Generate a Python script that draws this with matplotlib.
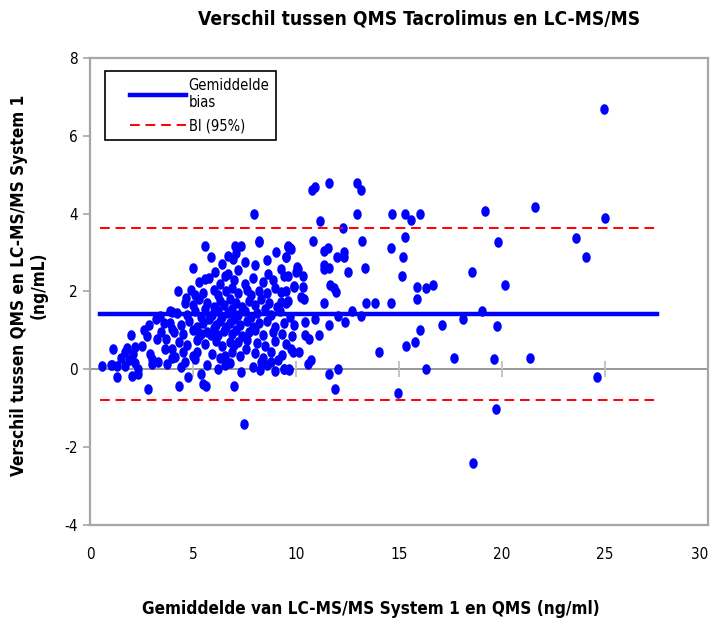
import matplotlib
matplotlib.use("Agg")
import matplotlib.pyplot as plt
import numpy as np
from matplotlib.path import Path
from matplotlib.legend_handler import HandlerLine2D

plt.rcParams['font.family'] = ['Liberation Sans Narrow', 'DejaVu Sans']
plt.rcParams['font.stretch'] = 'condensed'
plt.rcParams['axes.unicode_minus'] = False

# gemiddelde van beide methodes (ng/ml) en verschil (ng/mL)
sparse_x = [24.93, 25.02, 21.59, 23.57, 24.06, 24.59, 21.35, 19.18, 19.81, 20.14,
            18.55, 19.03, 19.76, 19.61, 19.71, 18.61, 14.67, 15.31, 15.56, 16.04,
            15.27, 14.59, 15.20, 15.15, 15.86, 16.29, 16.67, 15.86, 16.04, 15.80,
            15.33, 16.33, 14.94, 14.04, 14.59, 13.82, 13.42, 13.33, 13.22, 12.98,
            12.96, 13.14, 11.58, 10.92, 10.76, 11.17, 12.26, 10.81, 11.37, 11.53,
            12.01, 12.33, 12.33, 11.34, 11.34, 11.61, 12.50, 11.66, 11.82, 11.93,
            11.34, 12.71, 13.14, 12.04, 10.92, 11.61, 12.37, 10.43, 11.10, 10.43,
            10.64, 10.56, 10.72, 11.58, 12.06, 11.88, 17.07, 18.13, 17.65, 10.05,
            10.00, 10.32, 9.60, 9.60, 9.72, 9.53, 10.32, 9.92, 10.24, 10.40,
            9.84, 10.16, 9.43, 9.68, 7.97, 8.21]
sparse_y = [6.70, 3.89, 4.17, 3.38, 2.89, -0.19, 0.30, 4.07, 3.28, 2.17,
            2.51, 1.50, 1.12, 0.27, -1.03, -2.41, 4.00, 4.00, 3.83, 4.00,
            3.39, 3.12, 2.88, 2.40, 2.11, 2.10, 2.17, 1.81, 1.02, 0.70,
            0.60, 0.00, -0.61, 0.44, 1.71, 1.71, 1.71, 2.60, 3.29, 4.00,
            4.79, 4.60, 4.79, 4.68, 4.60, 3.81, 3.63, 3.29, 3.05, 3.12,
            2.88, 2.88, 3.01, 2.69, 2.58, 2.60, 2.50, 2.17, 2.09, 1.98,
            1.71, 1.50, 1.38, 1.38, 1.30, 1.13, 1.21, 1.21, 0.87, 0.87,
            0.78, 0.14, 0.23, -0.12, 0.00, -0.50, 1.13, 1.30, 0.29, 2.63,
            2.50, 2.41, 2.41, 3.18, 3.12, 2.88, 2.11, 2.11, 1.86, 1.81,
            0.44, 0.44, 0.01, 0.01, 4.00, 3.28]

left_x = [4.28, 4.65, 5.09, 3.40, 3.96, 2.00, 2.84, 2.75, 3.24, 3.67,
          1.14, 1.71, 2.19, 2.11, 3.96, 1.06, 1.30, 1.71, 1.87, 2.35,
          3.00, 3.00, 3.32, 3.72, 4.12, 4.60, 1.30, 2.03, 2.35, 4.77,
          2.80, 4.31, 1.00, 3.88, 3.96, 3.64, 2.50, 2.90, 3.45, 3.60,
          4.00, 3.20, 2.60, 1.50, 1.80, 2.20, 0.60]
left_y = [2.00, 1.83, 1.90, 1.38, 1.47, 0.89, 1.13, 0.85, 0.78, 0.78,
          0.51, 0.44, 0.57, 0.40, 0.53, 0.10, 0.08, 0.08, 0.23, 0.01,
          0.27, 0.14, 0.19, 0.14, 0.31, 0.19, -0.20, -0.16, -0.12, -0.20,
          -0.50, -0.42, 0.12, 1.51, 1.04, 0.53, 0.60, 0.40, 0.95, 1.20,
          0.30, 1.30, 1.00, 0.30, 0.55, 0.15, 0.08]

core_x = [5.60, 5.86, 7.02, 7.31, 8.20, 7.99, 6.94, 9.03, 9.60, 9.76,
          9.52, 6.05, 5.57, 6.54, 7.18, 8.63, 9.28, 10.08, 9.28, 9.25,
          9.52, 9.92, 5.41, 5.49, 5.65, 6.99, 7.34, 6.54, 8.31, 8.23,
          8.79, 9.43, 9.68, 7.47, 5.41, 5.89, 5.17, 5.09, 6.54, 7.58,
          7.18, 8.79, 9.12, 9.76, 6.54,
          5.3, 5.8, 6.3, 6.7, 7.0, 7.5, 7.9, 8.4, 8.9, 9.4,
          4.9, 5.5, 6.0, 6.2, 6.6, 6.9, 7.2, 7.6, 7.8, 8.2, 8.6, 9.0, 9.5,
          4.6, 5.0, 5.3, 5.7, 6.0, 6.3, 6.5, 6.8, 7.1, 7.4, 7.7, 8.0, 8.3, 8.7, 9.1, 9.6,
          4.2, 4.7, 5.1, 5.4, 5.6, 5.9, 6.2, 6.4, 6.7, 6.9, 7.2, 7.5, 7.8, 8.1, 8.5, 8.8, 9.2, 9.7,
          3.9, 4.4, 4.8, 5.2, 5.5, 5.8, 6.1, 6.3, 6.6, 6.8, 7.0, 7.3, 7.6, 7.9, 8.2, 8.6, 9.0, 9.4, 9.9,
          4.1, 4.5, 5.0, 5.3, 5.7, 6.0, 6.2, 6.5, 6.9, 7.1, 7.4, 7.7, 8.0, 8.4, 8.9, 9.3, 9.8,
          4.3, 4.7, 5.2, 5.6, 6.1, 6.4, 6.8, 7.0, 7.6, 8.1, 8.5, 9.0, 9.5,
          4.5, 5.0, 5.9, 6.3, 6.9, 7.3, 8.0, 8.4, 9.3,
          4.4, 5.7, 6.2, 6.8, 7.9, 8.6, 9.0,
          5.0, 6.4, 7.5, 8.6, 7.1, 6.7]
core_y = [3.18, 2.88, 3.17, 3.17, 3.29, 2.67, 2.84, 3.01, 3.14, 3.10,
          2.88, 2.50, 2.33, 2.41, 2.54, 2.45, 2.58, 2.58, 1.98, 1.73,
          1.71, 2.15, -0.12, -0.37, -0.42, -0.42, -0.07, 0.10, 0.19, -0.03,
          0.19, 0.01, -0.03, -1.40, 0.91, 0.87, 0.44, 0.27, 0.27, 0.53,
          0.70, 0.44, 0.23, 0.53, 0.35,
          2.25, 2.35, 2.20, 2.45, 2.30, 2.20, 2.35, 2.25, 2.30, 2.40,
          2.05, 1.95, 2.05, 1.90, 2.00, 2.10, 1.95, 2.05, 1.90, 2.00, 1.95, 2.10, 2.00,
          1.70, 1.65, 1.80, 1.70, 1.60, 1.75, 1.65, 1.80, 1.70, 1.60, 1.75, 1.65, 1.80, 1.70, 1.60, 1.75,
          1.45, 1.40, 1.50, 1.35, 1.55, 1.40, 1.50, 1.35, 1.45, 1.55, 1.40, 1.50, 1.35, 1.45, 1.55, 1.40, 1.50, 1.35,
          1.20, 1.15, 1.25, 1.10, 1.20, 1.30, 1.15, 1.25, 1.10, 1.20, 1.30, 1.15, 1.25, 1.10, 1.20, 1.25, 1.10, 1.20, 1.15,
          0.95, 0.90, 1.00, 0.85, 0.95, 1.05, 0.88, 0.98, 0.90, 1.02, 0.86, 0.95, 1.00, 0.88, 0.95, 0.90, 0.85,
          0.70, 0.62, 0.75, 0.65, 0.72, 0.60, 0.70, 0.62, 0.75, 0.68, 0.60, 0.72, 0.66,
          0.45, 0.35, 0.40, 0.30, 0.45, 0.35, 0.42, 0.30, 0.38,
          0.05, 0.12, 0.00, 0.15, 0.05, 0.10, -0.05,
          2.60, 2.70, 2.75, 2.80, 3.00, 2.90]

mean_bias = 1.41
bi_upper = 3.63
bi_lower = -0.80
line_x = [0.5, 27.5]
zero_ticks = [5, 10, 15, 20, 25]

x = np.array(sparse_x + left_x + core_x)
y = np.array(sparse_y + left_y + core_y)

# ovale markers zoals in het origineel
t = np.linspace(0, 2 * np.pi, 40)
oval = Path(np.column_stack([0.8 * np.cos(t), np.sin(t)]))

fig = plt.figure(figsize=(7.11, 6.27), dpi=100)
ax = fig.add_axes([0.1266, 0.1627, 0.8692, 0.7448])

grey = '#a6a6a6'
ax.axhline(0, color='#909090', linewidth=1.3, zorder=1)
ax.plot(zero_ticks, [0] * len(zero_ticks), linestyle='none', marker='|',
        markersize=11, markeredgewidth=1.3, color='#c0c0c0', zorder=1)

ax.plot(x, y, linestyle='none', marker=oval, markersize=7.6, color='#0000ff',
        markeredgewidth=0, zorder=3)

ax.plot(line_x, [mean_bias, mean_bias], color='#0000ff', linewidth=3.2,
        label='Gemiddelde\nbias', zorder=4)
ax.plot(line_x, [bi_upper, bi_upper], color='#ff0000', linewidth=1.4,
        dashes=(5, 3), label='BI (95%)', zorder=4)
ax.plot(line_x, [bi_lower, bi_lower], color='#ff0000', linewidth=1.4,
        dashes=(5, 3), zorder=4)

ax.set_xlim(0, 30)
ax.set_ylim(-4, 8)
ax.set_xticks(range(0, 31, 5))
ax.set_yticks(range(-4, 9, 2))
ax.tick_params(axis='x', length=0, pad=16, labelsize=11)
ax.tick_params(axis='y', length=5, color=grey, width=1.2, labelsize=11)
ax.get_xticklabels()[-1].set_horizontalalignment('right')
for s in ax.spines.values():
    s.set_color(grey)
    s.set_linewidth(1.6)

# legenda-lijnen iets ingesprongen, zoals in het origineel
leg = ax.legend(loc='upper left', bbox_to_anchor=(0.024, 0.972), fontsize=10.5,
                frameon=True, fancybox=False, edgecolor='black', framealpha=1,
                handlelength=5.1, borderpad=0.45, labelspacing=0.55, handletextpad=0.2,
                borderaxespad=0, handler_map={matplotlib.lines.Line2D: HandlerLine2D(xpad=1.3)})
leg.get_frame().set_linewidth(1.2)

fig.text(0.59, 0.97, 'Verschil tussen QMS Tacrolimus en LC-MS/MS',
         ha='center', va='center', fontsize=13.8, fontweight='bold')
fig.text(0.522, 0.028, 'Gemiddelde van LC-MS/MS System 1 en QMS (ng/ml)',
         ha='center', va='center', fontsize=12.3, fontweight='bold')
fig.text(0.04, 0.545, 'Verschil tussen QMS en LC-MS/MS System 1\n(ng/mL)',
         ha='center', va='center', rotation=90, fontsize=12.3, fontweight='bold',
         linespacing=1.1)

fig.savefig('out.png', dpi=100)
